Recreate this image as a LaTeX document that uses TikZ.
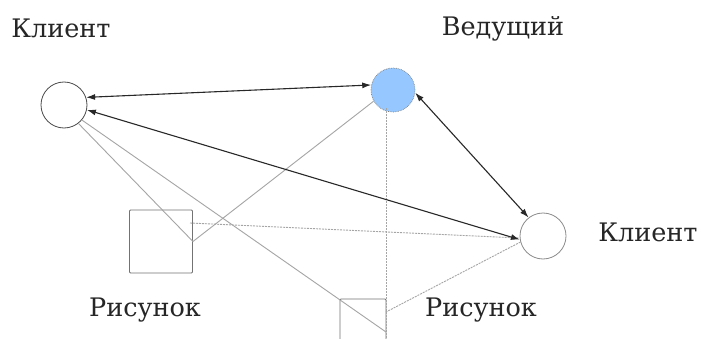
\documentclass[tikz,border=0pt]{standalone}
\usepackage{fontspec}
\setmainfont{DejaVu Serif}
\usetikzlibrary{arrows.meta,calc}
\definecolor{hostblue}{RGB}{150,200,255}
\definecolor{darkline}{RGB}{40,40,40}
\definecolor{lightline}{RGB}{165,165,165}
\tikzset{
  client/.style={circle,draw=black!70,line width=0.8pt,minimum size=46pt,inner sep=0pt},
  host/.style={circle,draw=black!50,densely dotted,fill=hostblue,line width=0.7pt,minimum size=44pt,inner sep=0pt},
  pic/.style={rectangle,draw=black!55,line width=0.9pt,rounded corners=1pt,inner sep=0pt},
  lbl/.style={font=\fontsize{25.5}{28}\selectfont,text=black!85,inner sep=0pt},
  bidir/.style={{Latex[length=9pt,width=6pt]}-{Latex[length=9pt,width=6pt]},draw=darkline,line width=1.1pt},
  gline/.style={draw=lightline,line width=0.9pt},
  dline/.style={draw=lightline,line width=0.9pt,dash pattern=on 2pt off 1pt}
}
\begin{document}
\begin{tikzpicture}[x=1pt,y=-1pt]
\useasboundingbox[fill=white] (0,0) rectangle (703,339);
\clip (0,0) rectangle (703,339);
% nodes
\node[client] (lc) at (64,105) {};
\node[host] (host) at (393,90) {};
\node[client,draw=black!45] (rc) at (543,236) {};
\node[pic,minimum width=63pt,minimum height=63pt] (sq1) at (161,241.5) {};
\node[pic,minimum width=46pt,minimum height=46pt] (sq2) at (363,322) {};
% labels
\node[lbl] (t1) at (61,28) {Клиент};
\node[lbl] (t2) at (503,29) {Ведущий};
\node[lbl] (t3) at (648,232) {Клиент};
\node[lbl] (t4) at (145,310) {Рисунок};
\node[lbl] (t5) at (481,310) {Рисунок};
% coordinates
\coordinate (s1d) at (190,223);
\coordinate (s2a) at (386,332);
\coordinate (s2b) at (386,312);
\coordinate (hbot) at (386,108);
\coordinate (vend) at (386,345);
% light lines
\draw[gline] (lc.-52) -- (sq1.east) -- (host.-150);
\draw[gline] (lc.-40) -- (s2a);
\draw[dline] (s1d) -- (rc.-175);
\draw[dline] (hbot) -- (vend);
\draw[dline] (rc.-165) -- (s2b);
% arrows
\draw[bidir] (lc.19) -- (host.167);
\draw[bidir] (lc.-12) -- (rc.-171);
\draw[bidir] (host.-7) -- (rc.128);
\end{tikzpicture}
\end{document}
